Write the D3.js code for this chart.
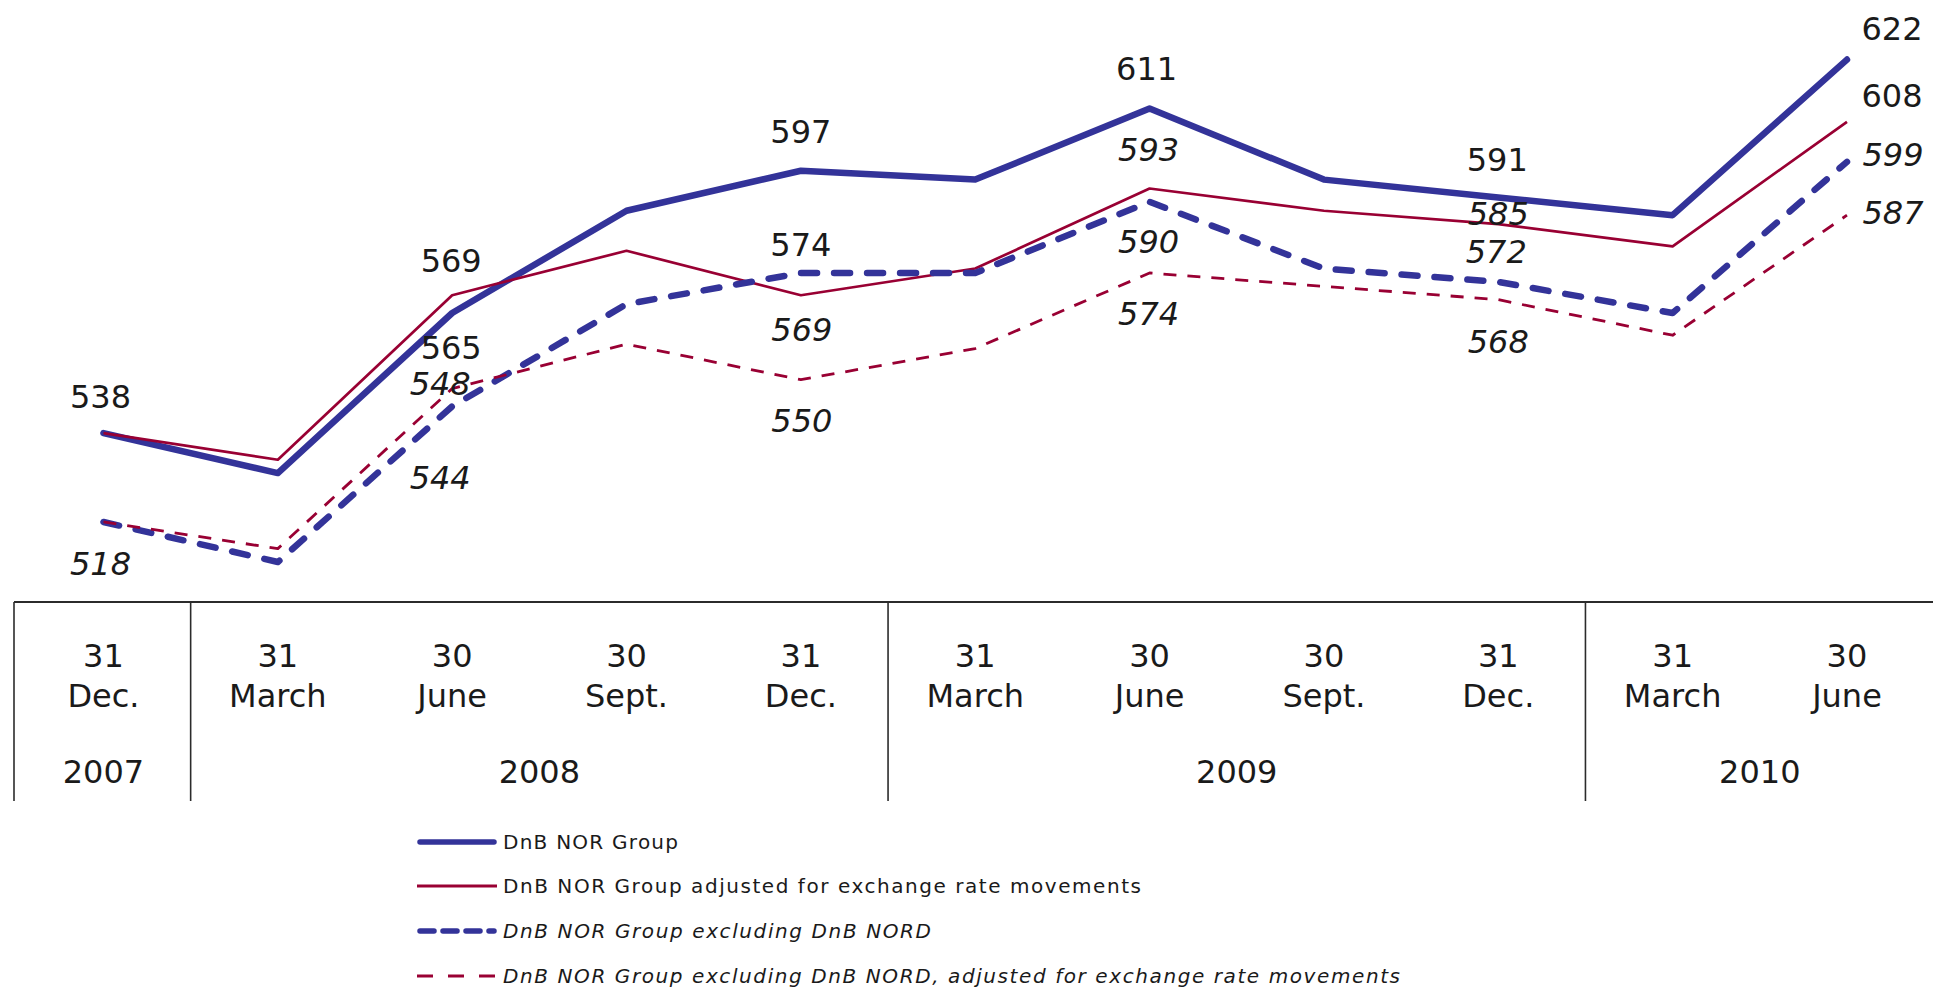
<!DOCTYPE html>
<html><head><meta charset="utf-8">
<script src="https://cdn.jsdelivr.net/npm/d3@7/dist/d3.min.js"></script>
<style>body{margin:0;background:#fff;} svg{display:block;}</style>
</head><body><svg id="chart" width="1933" height="990"></svg>
<script>
// ---------- data ----------
const dayLabels   = ["31","31","30","30","31","31","30","30","31","31","30"];
const monthLabels = ["Dec.","March","June","Sept.","Dec.","March","June","Sept.","Dec.","March","June"];
const yearLabels  = ["2007","2008","2009","2010"];
const yearFirst   = [0,1,5,9];
const yearLast    = [0,4,8,10];
const seriesNames = [
  "DnB NOR Group",
  "DnB NOR Group adjusted for exchange rate movements",
  "DnB NOR Group excluding DnB NORD",
  "DnB NOR Group excluding DnB NORD, adjusted for exchange rate movements"
];
const groupValues          = [538,529,565,588,597,595,611,595,591,587,622];
const groupAdjustedValues  = [538,532,569,579,569,575,593,588,585,580,608];
const exNordValues         = [518,509,544,567,574,574,590,575,572,565,599];
const exNordAdjustedValues = [518,512,548,558,550,557,574,571,568,560,587];
const seriesValues = [groupValues, groupAdjustedValues, exNordValues, exNordAdjustedValues];

// ---------- layout / style ----------
const W = 1933, H = 990;
const FONT = "'DejaVu Sans', Verdana, sans-serif";
const TEXT = "#1a1a1a";
const BLUE = "#333399", RED = "#990033";
const seriesStyle = [
  {color: BLUE, width: 6.5, dash: null,    cap: "round", italic: false, legendDash: null},
  {color: RED,  width: 2.7, dash: null,    cap: "butt",  italic: false, legendDash: null},
  {color: BLUE, width: 6.5, dash: "16,17", cap: "round", italic: true,  legendDash: "14,9"},
  {color: RED,  width: 2.8, dash: "13,11", cap: "butt",  italic: true,  legendDash: "16,15"}
];
// label placement: [series, point index, dx, dy, italic]
const labelLayout = [
  [0,0,-3,-37,false],[2,0,-3,42,true],
  [1,2,-1,-35,false],[0,2,-1,34,false],[3,2,-12,-5,true],[2,2,-12,71,true],
  [0,4,0,-39,false],[2,4,0,-29,false],[1,4,1,34,true],[3,4,1,41,true],
  [0,6,-3,-40,false],[1,6,-1,-39,true],[2,6,-1,40,true],[3,6,-1,40,true],
  [0,8,-1,-38,false],[1,8,0,-11,true],[2,8,-2,-30,true],[3,8,0,42,true],
  [0,10,45,-31,false],[1,10,45,-26,false],[2,10,46,-7,true],[3,10,46,-3,true]
];
const legendRowsY = [842, 886, 931, 976];
const legendTextLen = [175, 638, 428, 897];

const svg = d3.select("#chart");
const x = d3.scaleBand().domain(d3.range(dayLabels.length)).range([16.3, 16.3 + 174.35*11]).padding(0);
const bw = x.bandwidth();
const cx = i => x(i) + bw/2;
const y = d3.scaleLinear().domain([500, 630]).range([602, 24]);
const tableTop = y(500), tableBottom = 801;

// ---------- table / axis ----------
const tbl = svg.append("g").attr("stroke", "#2b2b2b").attr("stroke-width", 1.6);
tbl.append("line").attr("x1", 14).attr("x2", W).attr("y1", tableTop).attr("y2", tableTop).attr("stroke-width", 2.2);
const sepX = [14].concat(yearLast.slice(0, -1).map(i => x(i) + bw));
tbl.selectAll("line.sep").data(sepX).join("line").attr("class","sep")
  .attr("x1", d => d).attr("x2", d => d).attr("y1", tableTop).attr("y2", tableBottom);

const axis = svg.append("g").attr("transform", `translate(0,${tableTop})`)
  .call(d3.axisBottom(x).tickSize(0).tickFormat(""));
axis.select(".domain").remove();
axis.selectAll(".tick text").remove();
axis.selectAll(".tick").each(function(d){
  const t = d3.select(this).append("text")
    .attr("text-anchor","middle").attr("fill", TEXT)
    .style("font-family", FONT).style("font-size","32px");
  t.append("tspan").attr("x",0).attr("y",65).text(dayLabels[d]);
  t.append("tspan").attr("x",0).attr("y",105).text(monthLabels[d]);
});
svg.append("g").selectAll("text").data(yearLabels).join("text")
  .attr("x", (d,k) => (x(yearFirst[k]) + x(yearLast[k]) + bw)/2)
  .attr("y", 783)
  .attr("text-anchor","middle").attr("fill", TEXT)
  .style("font-family", FONT).style("font-size","32px")
  .text(d => d);

// ---------- lines ----------
const line = d3.line().x((v,i) => cx(i)).y(v => y(v));
svg.append("g").selectAll("path").data(seriesValues).join("path")
  .attr("d", d => line(d))
  .attr("fill","none")
  .attr("stroke", (d,k) => seriesStyle[k].color)
  .attr("stroke-width", (d,k) => seriesStyle[k].width)
  .attr("stroke-dasharray", (d,k) => seriesStyle[k].dash)
  .attr("stroke-linecap", (d,k) => seriesStyle[k].cap)
  .attr("stroke-linejoin","round");

// ---------- data labels ----------
svg.append("g").selectAll("text").data(labelLayout).join("text")
  .attr("x", d => cx(d[1]) + d[2])
  .attr("y", d => y(seriesValues[d[0]][d[1]]) + d[3])
  .attr("dy","0.36em")
  .attr("text-anchor","middle").attr("fill", TEXT)
  .style("font-family", FONT).style("font-size","32px")
  .style("font-style", d => d[4] ? "italic" : "normal")
  .text(d => seriesValues[d[0]][d[1]]);

// ---------- legend ----------
const lg = svg.append("g");
const rows = lg.selectAll("g").data(seriesNames).join("g")
  .attr("transform", (d,k) => `translate(0,${legendRowsY[k]})`);
rows.append("line")
  .attr("x1", (d,k) => seriesStyle[k].cap === "round" ? 420 : 417)
  .attr("x2", (d,k) => seriesStyle[k].cap === "round" ? 494 : 497)
  .attr("y1", 0).attr("y2", 0)
  .attr("stroke", (d,k) => seriesStyle[k].color)
  .attr("stroke-width", (d,k) => k === 0 || k === 2 ? 5.5 : 3)
  .attr("stroke-linecap", (d,k) => seriesStyle[k].cap)
  .attr("stroke-dasharray", (d,k) => seriesStyle[k].legendDash);
rows.append("text")
  .attr("x", 503).attr("y", 0).attr("dy","0.36em")
  .attr("fill", TEXT)
  .attr("textLength", (d,k) => legendTextLen[k])
  .attr("lengthAdjust","spacing")
  .style("font-family", FONT).style("font-size","20px")
  .style("font-style", (d,k) => seriesStyle[k].italic ? "italic" : "normal")
  .text(d => d);
</script>
</body></html>
